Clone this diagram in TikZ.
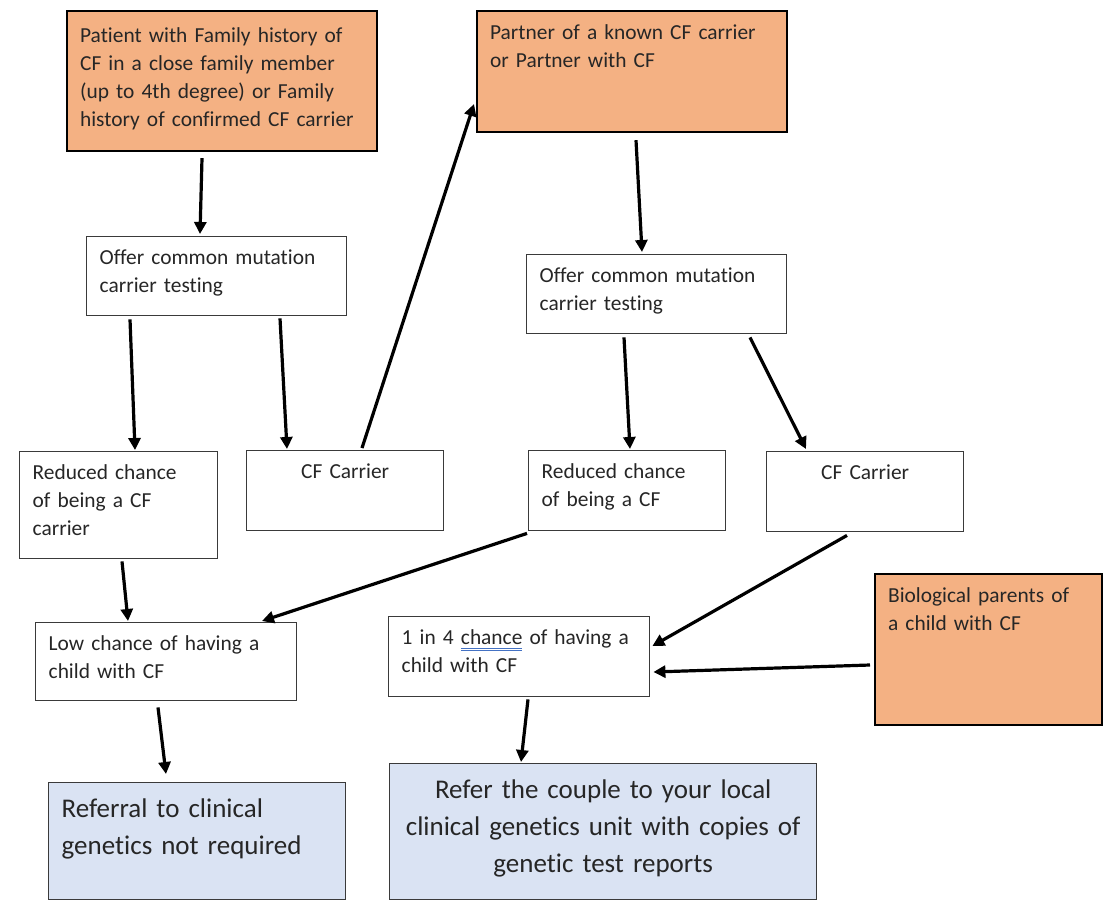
\documentclass[tikz,border=0pt]{standalone}
\usepackage{fontspec}
\setmainfont[Ligatures=NoCommon]{Carlito}
\usepackage{xcolor}
\definecolor{ink}{HTML}{262626}
\definecolor{edge}{HTML}{3A3A3A}
\definecolor{cue}{HTML}{F4B183}
\definecolor{advice}{HTML}{DAE3F3}
\definecolor{markblue}{HTML}{4472C4}
\usepackage{tikz}
\usetikzlibrary{arrows.meta, calc}
\newcommand{\spellmark}[1]{\setbox0\hbox{#1}\rlap{\color{markblue}\rule[-2pt]{\wd0}{0.5pt}\hskip-\wd0\rule[-3.1pt]{\wd0}{0.5pt}}#1}
\tikzset{
  >={Triangle[length=6pt, width=6pt]},
  box/.style={draw=edge, line width=0.7pt, fill=white, anchor=north west, align=left,
    inner xsep=6.5pt, inner ysep=6pt, text height=8pt, text=ink,
    font=\fontsize{10.7}{14}\selectfont},
  cue/.style={box, draw=black, line width=1.1pt, fill=cue},
  advice/.style={box, fill=advice, inner ysep=8.5pt, text height=9pt,
    font=\fontsize{13.5}{18.5}\selectfont},
  flow/.style={->, line width=1.6pt, color=black},
}

\begin{document}
\begin{tikzpicture}[x=0.5pt, y=-0.5pt]
  \useasboundingbox (0,0) rectangle (1108,900);

  % referral reasons
  \node[cue, text width=142pt, text depth=47pt, inner ysep=7.5pt] (history) at (66,10)
    {Patient with Family history of\\CF in a close family member\\(up to 4th degree) or Family\\history of confirmed CF carrier};
  \node[cue, text width=142pt, text depth=40.5pt] (partner) at (476,10)
    {Partner of a known CF carrier\\or Partner with CF};
  \node[cue, text width=100.5pt, text depth=55.5pt] (parents) at (874,573)
    {Biological parents of\\a child with CF};

  % testing
  \node[box, text width=117pt, text depth=19.5pt] (offerL) at (86,236)
    {Offer common mutation\\carrier testing};
  \node[box, text width=117pt, text depth=19.5pt] (offerR) at (526,254)
    {Offer common mutation\\carrier testing};

  % results
  \node[box, text width=86pt, text depth=33.5pt] (reducedL) at (19,451)
    {Reduced chance\\of being a CF\\carrier};
  \node[box, text width=85.5pt, text depth=20pt, align=center] (carrierL) at (246,450)
    {CF Carrier};
  \node[box, text width=85.5pt, text depth=20pt] (reducedR) at (528,450)
    {Reduced chance\\of being a CF};
  \node[box, text width=85.5pt, text depth=20pt, align=center] (carrierR) at (766,451)
    {CF Carrier};

  % risk
  \node[box, text width=117.5pt, text depth=19pt] (lowchance) at (35,622)
    {Low chance of having a\\child with CF};
  \node[box, text width=117.5pt, text depth=20pt] (quarter) at (388,616)
    {1 in 4 \spellmark{chance} of having a\\child with CF};

  % outcome
  \node[advice, text width=135.5pt, text depth=32.5pt] (noreferral) at (48,782)
    {Referral to clinical\\genetics not required};
  \node[advice, text width=200.5pt, text depth=42pt, align=center] (referral) at (389,763)
    {Refer the couple to your local\\clinical genetics unit with copies of\\genetic test reports};

  \draw[flow] ($(history.south west)+(136,6)$) -- ($(offerL.north west)+(114,-2)$);
  \draw[flow] ($(offerL.south west)+(44,3)$) -- ($(reducedL.north west)+(116,-1)$);
  \draw[flow] ($(offerL.south west)+(194,2)$) -- ($(carrierL.north west)+(41,-1)$);
  \draw[flow] ($(carrierL.north west)+(116,-2)$) -- ($(partner.north west)+(-2,94)$);
  \draw[flow] ($(partner.south west)+(160,7)$) -- ($(offerR.north west)+(116,-2)$);
  \draw[flow] ($(offerR.south west)+(98,3)$) -- ($(reducedR.north west)+(102,-1)$);
  \draw[flow] ($(offerR.south west)+(224,3)$) -- ($(carrierR.north west)+(40,-2)$);
  \draw[flow] ($(reducedL.south west)+(103,2)$) -- ($(lowchance.north west)+(93,-1)$);
  \draw[flow] ($(reducedR.south west)+(-1,2)$) -- ($(lowchance.north west)+(227,-1)$);
  \draw[flow] ($(carrierR.south west)+(81,3)$) -- ($(quarter.north east)+(2,30)$);
  \draw[flow] ($(parents.north west)+(-4,92)$) -- ($(quarter.north east)+(3,56)$);
  \draw[flow] ($(lowchance.south west)+(123,6)$) -- ($(noreferral.north west)+(118,-8)$);
  \draw[flow] ($(quarter.south west)+(140,2)$) -- ($(referral.north west)+(132,-1)$);
\end{tikzpicture}
\end{document}
